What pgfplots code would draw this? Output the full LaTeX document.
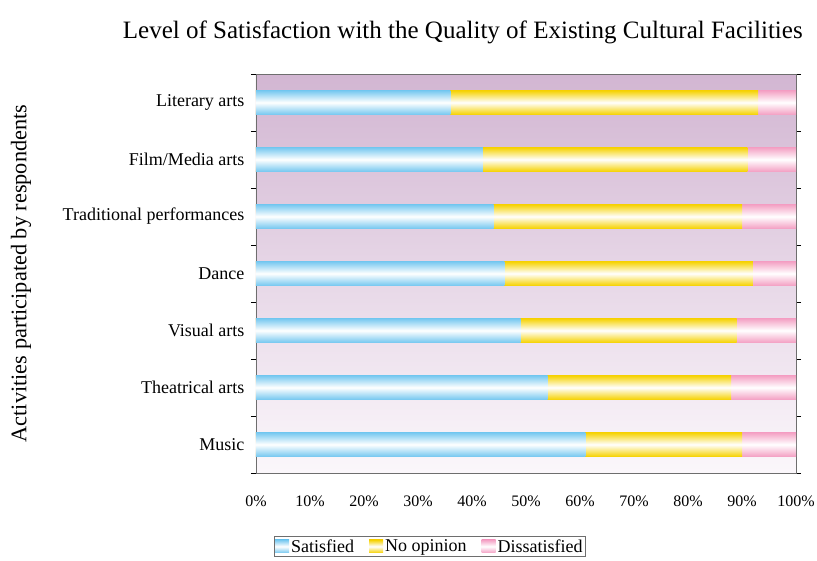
\documentclass[border=0pt]{standalone}
\usepackage{pgfplots}
\pgfplotsset{compat=1.18}
\usepackage{fontspec}
\setmainfont{Liberation Serif}
\definecolor{bgtop}{RGB}{210,182,210}
\definecolor{bgbot}{RGB}{251,247,251}
\definecolor{satc}{RGB}{118,200,240}
\definecolor{noc}{RGB}{246,210,0}
\definecolor{disc}{RGB}{244,160,196}
\definecolor{framec}{RGB}{110,110,110}
% one shaded bar segment: colour, end value, category index
\newcommand{\segbar}[3]{\addplot[xbar, bar shift=0pt, bar width=24pt, draw=none, forget plot,
  top color=#1, bottom color=#1, middle color=white] coordinates {(#2,#3)};}
\begin{document}
\begin{tikzpicture}
\begin{axis}[
  scale only axis,
  width=540pt, height=399pt,
  xmin=0, xmax=100,
  ymin=-0.5, ymax=6.5,
  axis background/.style={top color=bgtop, bottom color=bgbot},
  axis line style={framec, line width=0.8pt},
  xtick={0,10,...,100},
  xticklabel={\pgfmathprintnumber{\tick}\%},
  /pgf/number format/assume math mode=true,
  xtick style={draw=none},
  xticklabel style={font=\fontsize{16}{18}\selectfont, yshift=-19pt},
  ytick={0,1,2,3,4,5,6},
  yticklabels={Music,Theatrical arts,Visual arts,Dance,Traditional performances,Film/Media arts,Literary arts},
  yticklabel style={font=\fontsize{18}{20}\selectfont, xshift=-8pt},
  major tick length=0pt,
  minor ytick={-0.5,0.5,...,6.5},
  minor tick length=5pt,
  tick align=outside,
  minor tick style={black, line width=0.8pt},
  ylabel={Activities participated by respondents},
  every axis y label/.style={at={(rel axis cs:-0.435,0.5)}, rotate=90, anchor=center, font=\fontsize{22.3}{25}\selectfont},
  title={Level of Satisfaction with the Quality of Existing Cultural Facilities},
  title style={at={(rel axis cs:0.383,1.090)}, anchor=center, font=\fontsize{25}{28}\selectfont},
  legend style={at={(rel axis cs:0.322,-0.158)}, anchor=north, legend columns=3, draw=framec, line width=0.6pt, font=\fontsize{18}{20}\selectfont, inner sep=1pt, /tikz/every even column/.append style={column sep=13pt}},
  legend image code/.code={\path[#1, draw=none] (0pt,-6.5pt) rectangle (14pt,6.5pt);},
]
% Each category: Dissatisfied (to 100%), No opinion (to Satisfied + No opinion), Satisfied
% Music: 61 / 29 / 10
\segbar{disc}{100}{0} \segbar{noc}{90}{0} \segbar{satc}{61}{0}
% Theatrical arts: 54 / 34 / 12
\segbar{disc}{100}{1} \segbar{noc}{88}{1} \segbar{satc}{54}{1}
% Visual arts: 49 / 40 / 11
\segbar{disc}{100}{2} \segbar{noc}{89}{2} \segbar{satc}{49}{2}
% Dance: 46 / 46 / 8
\segbar{disc}{100}{3} \segbar{noc}{92}{3} \segbar{satc}{46}{3}
% Traditional performances: 44 / 46 / 10
\segbar{disc}{100}{4} \segbar{noc}{90}{4} \segbar{satc}{44}{4}
% Film/Media arts: 42 / 49 / 9
\segbar{disc}{100}{5} \segbar{noc}{91}{5} \segbar{satc}{42}{5}
% Literary arts: 36 / 57 / 7
\segbar{disc}{100}{6} \segbar{noc}{93}{6} \segbar{satc}{36}{6}
\addlegendimage{top color=satc, bottom color=satc, middle color=white}
\addlegendentry{Satisfied}
\addlegendimage{top color=noc, bottom color=noc, middle color=white}
\addlegendentry{No opinion}
\addlegendimage{top color=disc, bottom color=disc, middle color=white}
\addlegendentry{Dissatisfied}
\end{axis}
\pgfresetboundingbox
\path ([shift={(-256pt,-87pt)}]current axis.south west) rectangle ++(817pt,560pt);
\end{tikzpicture}
\end{document}
